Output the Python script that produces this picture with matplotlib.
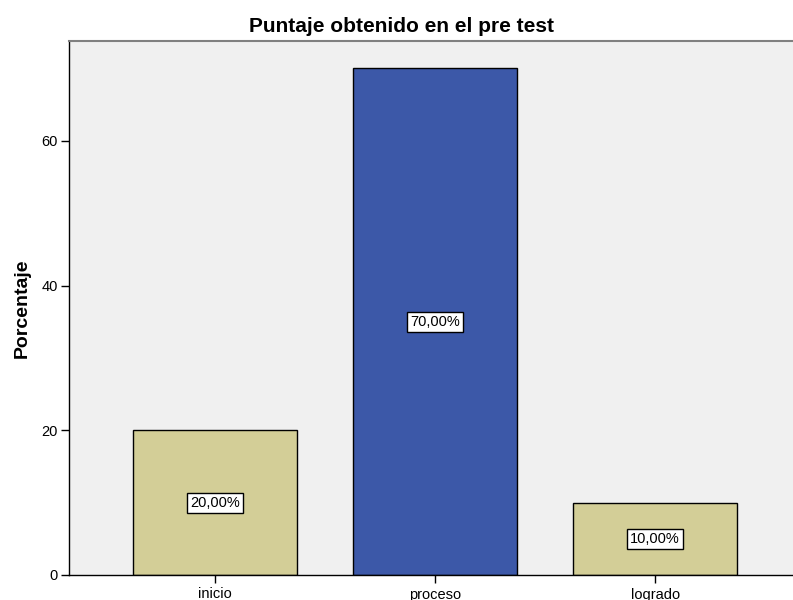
import matplotlib.pyplot as plt
import numpy as np

categories = ['inicio', 'proceso', 'logrado']
percent = [20, 70, 10]
bar_colors = ['#D3CE97', '#3C58A8', '#D3CE97']

plt.rcParams['font.family'] = ['Liberation Sans', 'DejaVu Sans']

fig = plt.figure(figsize=(7.93, 6), dpi=100)
ax = fig.add_axes([69 / 793, 25 / 600, 1 - 69 / 793, (575 - 41) / 600])
ax.set_facecolor('#F0F0F0')

x = np.arange(len(categories))
bars = ax.bar(x, percent, width=0.745, color=bar_colors, edgecolor='black', linewidth=1)

for xi, v in zip(x, percent):
    ax.text(xi, v / 2, f'{v},00%', ha='center', va='center', fontsize=10.5,
            bbox=dict(boxstyle='square,pad=0.2', facecolor='white', edgecolor='black', linewidth=1))

ax.set_xlim(-0.664, 2.627)
ax.set_ylim(0, 73.8)
ax.set_xticks(x)
ax.set_xticklabels(categories, fontsize=10.5)
ax.set_yticks([0, 20, 40, 60])
ax.tick_params(axis='y', labelsize=10.5, length=6, width=1, pad=2)
ax.tick_params(axis='x', length=6, width=1, pad=3)

ax.spines['right'].set_visible(False)
ax.spines['top'].set_color('#808080')
ax.spines['top'].set_linewidth(1.5)
ax.spines['left'].set_linewidth(1)
ax.spines['bottom'].set_linewidth(1)

ax.set_ylabel('Porcentaje', fontsize=14, fontweight='bold', labelpad=8)
fig.text(401 / 793, 1 - 26 / 600, 'Puntaje obtenido en el pre test', fontsize=15,
         fontweight='bold', ha='center', va='center')

fig.savefig('out.png', dpi=100)
